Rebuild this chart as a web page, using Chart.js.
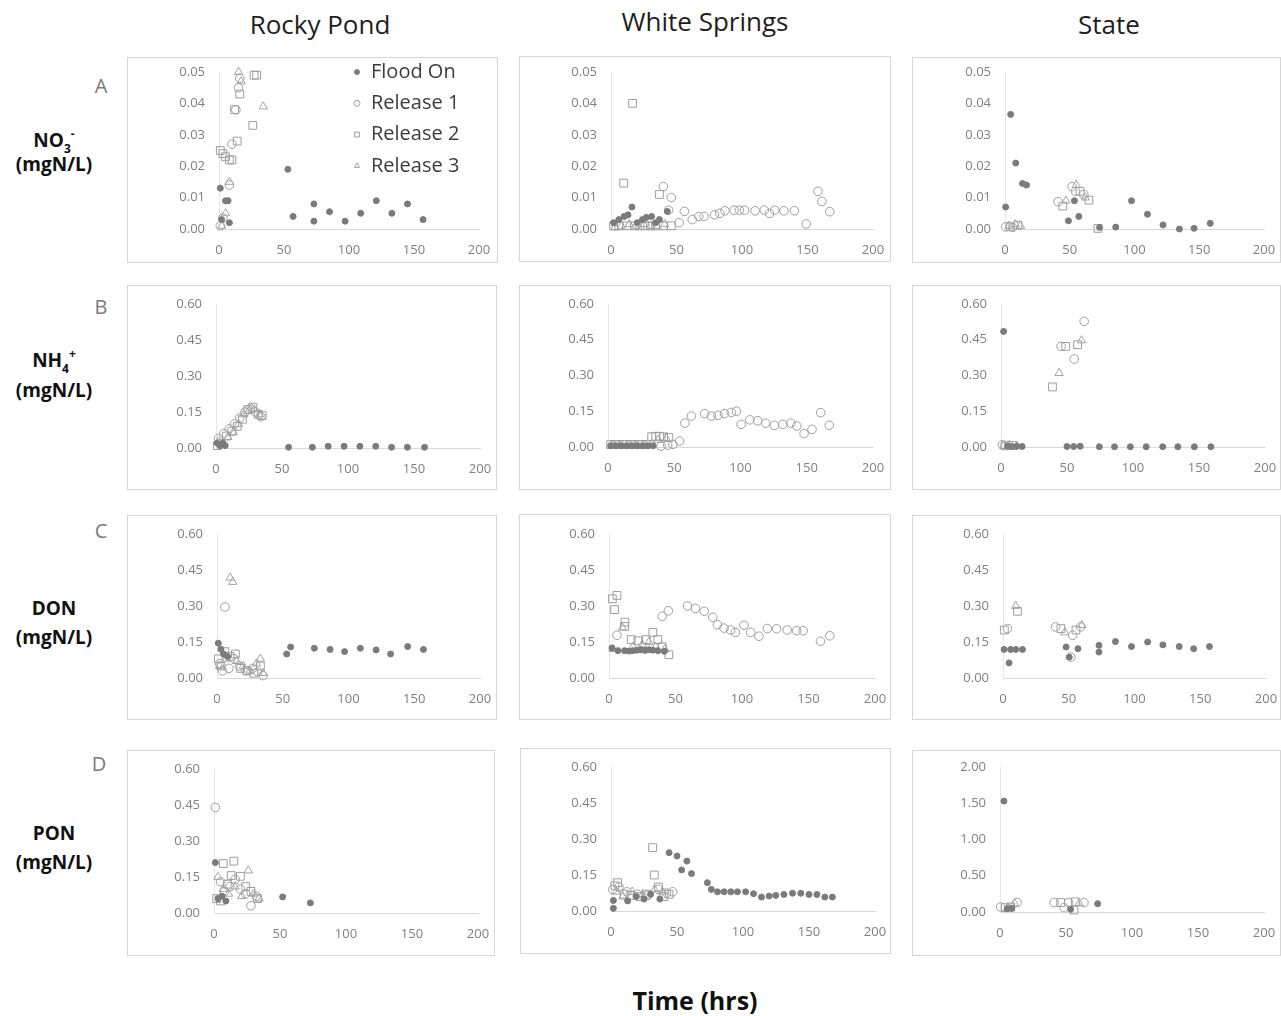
<!DOCTYPE html>
<html>
<head>
<meta charset="utf-8">
<script src="https://cdn.jsdelivr.net/npm/chart.js@4.4.0/dist/chart.umd.min.js"></script>
<style>
  body { margin: 0; background: #fff; font-family: "Open Sans", sans-serif; }
  #page { position: relative; width: 1281px; height: 1016px; overflow: hidden; }
  .c { position: absolute; transform: translate(-50%, -50%); white-space: nowrap; }
  .title { font-size: 26px; color: #1e1e1e; }
  .letter { font-size: 20px; color: #7a7a7a; }
  .rowlab { font-size: 19px; font-weight: bold; color: #111; }
  .sb { position: relative; top: 6px; font-size: 12px; }
  .sp { position: relative; top: -9px; font-size: 12px; }
  .frame { position: absolute; border: 1px solid #d6d6d6; box-sizing: border-box; pointer-events: none; }
  canvas { position: absolute; }
</style>
</head>
<body>
<div id="page">
  <div class="c title" style="left:320px;top:24px">Rocky Pond</div>
  <div class="c title" style="left:705px;top:21px">White Springs</div>
  <div class="c title" style="left:1109px;top:24px">State</div>

  <div class="c letter" style="left:101px;top:85px">A</div>
  <div class="c letter" style="left:101px;top:306px">B</div>
  <div class="c letter" style="left:101px;top:530px">C</div>
  <div class="c letter" style="left:99px;top:763px">D</div>

  <div class="c rowlab" style="left:54px;top:140px">NO<span class="sb">3</span><span class="sp">-</span></div>
  <div class="c rowlab" style="left:54px;top:164px">(mgN/L)</div>
  <div class="c rowlab" style="left:54px;top:360px">NH<span class="sb">4</span><span class="sp">+</span></div>
  <div class="c rowlab" style="left:54px;top:390px">(mgN/L)</div>
  <div class="c rowlab" style="left:54px;top:608px">DON</div>
  <div class="c rowlab" style="left:54px;top:637px">(mgN/L)</div>
  <div class="c rowlab" style="left:54px;top:833px">PON</div>
  <div class="c rowlab" style="left:54px;top:862px">(mgN/L)</div>

  <div class="c rowlab" style="left:695px;top:1000px;font-size:25px">Time (hrs)</div>
</div>

<script>
// series names and [time (hrs), mgN/L] values
const seriesNames = ["Flood On", "Release 1", "Release 2", "Release 3"];

// Rocky Pond
const rpNo3Flood = [[1,0.013],[2,0.003],[5,0.009],[7,0.009],[8,0.002],[53,0.019],[57,0.004],[73,0.008],[73,0.0025],[85,0.0055],[97,0.0025],[109,0.005],[121,0.009],[133,0.005],[145,0.008],[157,0.003]];
const rpNo3Rel1 = [[1,0.001],[3,0.0035],[8,0.014],[10,0.027],[13,0.038],[15,0.045],[16,0.048]];
const rpNo3Rel2 = [[1,0.025],[3,0.024],[5,0.023],[8,0.022],[10,0.022],[12,0.038],[14,0.028],[16,0.043],[26,0.033],[27,0.049],[29,0.049]];
const rpNo3Rel3 = [[2,0.001],[5,0.005],[8,0.015],[15,0.05],[17,0.047],[34,0.039]];

const rpNh4Flood = [[1,0.02],[3,0.01],[5,0.02],[7,0.01],[55,0.003],[73,0.003],[85,0.007],[97,0.007],[109,0.007],[121,0.007],[133,0.003],[145,0.003],[158,0.003]];
const rpNh4Rel1 = [[2,0.04],[6,0.06],[10,0.08],[14,0.1],[18,0.125],[22,0.15],[26,0.165],[30,0.15],[34,0.13]];
const rpNh4Rel2 = [[1,0.01],[4,0.02],[8,0.05],[12,0.07],[16,0.09],[20,0.12],[24,0.16],[28,0.17],[32,0.14],[35,0.135]];
const rpNh4Rel3 = [[2,0.03],[5,0.015],[9,0.045],[13,0.065],[17,0.1],[21,0.14],[25,0.155],[29,0.16],[33,0.14]];

const rpDonFlood = [[1,0.145],[3,0.12],[5,0.1],[8,0.09],[53,0.1],[56,0.129],[74,0.124],[86,0.119],[97,0.11],[109,0.124],[121,0.117],[132,0.1],[145,0.131],[157,0.119]];
const rpDonRel1 = [[2,0.06],[4,0.03],[6,0.296],[9,0.04],[13,0.08],[17,0.05],[22,0.03],[27,0.04],[31,0.025],[35,0.01]];
const rpDonRel2 = [[1,0.08],[3,0.05],[6,0.11],[10,0.09],[14,0.1],[18,0.04],[23,0.03],[28,0.02],[33,0.05]];
const rpDonRel3 = [[2,0.05],[7,0.08],[10,0.418],[12,0.4],[15,0.07],[20,0.05],[25,0.03],[30,0.06],[33,0.08],[35,0.02]];

const rpPonFlood = [[1,0.21],[3,0.06],[6,0.07],[9,0.05],[52,0.067],[73,0.042]];
const rpPonRel1 = [[1,0.44],[5,0.13],[8,0.09],[12,0.11],[16,0.14],[20,0.1],[24,0.08],[28,0.03],[32,0.07]];
const rpPonRel2 = [[2,0.06],[5,0.05],[7,0.206],[10,0.12],[13,0.156],[15,0.216],[20,0.153],[24,0.11],[28,0.09],[33,0.06]];
const rpPonRel3 = [[3,0.15],[7,0.1],[11,0.08],[16,0.11],[21,0.07],[26,0.177],[30,0.08],[34,0.06]];

// White Springs
const wsNo3Flood = [[2,0.002],[6,0.003],[10,0.004],[13,0.0045],[16,0.007],[20,0.002],[24,0.003],[27,0.0037],[31,0.004],[34,0.002],[37,0.003],[43,0.0056]];
const wsNo3Rel1 = [[40,0.0135],[44,0.006],[46,0.01],[52,0.002],[56,0.0056],[62,0.003],[67,0.004],[71,0.004],[79,0.0045],[83,0.005],[87,0.0058],[94,0.006],[98,0.006],[102,0.006],[110,0.0058],[117,0.006],[121,0.005],[125,0.006],[132,0.0058],[140,0.0058],[149,0.0016],[158,0.012],[161,0.0088],[167,0.0055]];
const wsNo3Rel2 = [[2,0.001],[6,0.001],[9.7,0.0146],[12,0.001],[16.5,0.04],[18,0.001],[22,0.001],[26,0.001],[30,0.001],[34,0.001],[37,0.011],[40,0.001],[46,0.001]];
const wsNo3Rel3 = [[3,0.0005],[8,0.001],[14,0.0015],[19,0.001],[25,0.0015],[30,0.001],[35,0.001],[41,0.0015]];

const wsNh4Flood = [[2,0.005],[6,0.005],[10,0.005],[14,0.005],[18,0.005],[22,0.005],[26,0.005],[30,0.005],[34,0.005]];
const wsNh4Rel1 = [[40,0.004],[45,0.008],[49,0.011],[54,0.025],[58,0.1],[63,0.13],[73,0.14],[78,0.13],[83,0.133],[88,0.14],[93,0.145],[97,0.15],[100.5,0.095],[107,0.114],[113,0.11],[119,0.1],[125.5,0.091],[132,0.095],[138,0.1],[142.5,0.088],[148,0.056],[154,0.074],[160.5,0.144],[167,0.091]];
const wsNh4Rel2 = [[2,0.01],[5,0.01],[8,0.01],[11,0.01],[14,0.01],[17,0.01],[20,0.01],[23,0.01],[26,0.01],[29,0.01],[33,0.043],[36,0.045],[39,0.045],[42,0.043],[46,0.04]];
const wsNh4Rel3 = [[3,0.008],[9,0.006],[15,0.008],[21,0.006],[27,0.008],[33,0.012],[38,0.03],[44,0.035]];

const wsDonFlood = [[2.2,0.125],[6.7,0.114],[11.7,0.114],[15,0.112],[18,0.114],[21,0.116],[24,0.118],[27,0.115],[30,0.118],[33,0.116],[36.7,0.114],[41.6,0.111]];
const wsDonRel1 = [[6,0.178],[40,0.257],[44.6,0.28],[59,0.3],[65,0.29],[71.6,0.278],[78,0.253],[81.5,0.222],[86.5,0.208],[91.5,0.2],[95,0.19],[101.5,0.22],[106.5,0.19],[112.7,0.174],[119,0.206],[126,0.205],[134,0.2],[141,0.197],[146,0.197],[159,0.153],[166,0.176]];
const wsDonRel2 = [[2.5,0.33],[6,0.344],[4.2,0.285],[12,0.233],[11.7,0.215],[16.7,0.16],[21.7,0.155],[28,0.16],[33,0.19],[36.7,0.16],[40,0.13],[45,0.097]];
const wsDonRel3 = [[3,0.12],[10,0.21],[18,0.13],[25,0.14],[30,0.15],[35,0.13],[42,0.12]];

const wsPonFlood = [[1.8,0.044],[1.8,0.011],[12.6,0.042],[19,0.06],[25,0.05],[30,0.07],[37,0.05],[44,0.243],[50,0.229],[53.5,0.171],[57.5,0.208],[61,0.156],[73,0.118],[76,0.09],[80.7,0.08],[85.7,0.08],[90.8,0.08],[95.8,0.08],[102,0.08],[108,0.072],[114,0.058],[119.8,0.0625],[124.8,0.065],[131,0.069],[137.5,0.074],[143.8,0.074],[150,0.069],[156,0.069],[162,0.058],[167.7,0.058]];
const wsPonRel1 = [[1.3,0.09],[6,0.1],[12,0.08],[20,0.07],[28,0.065],[36,0.09],[42,0.075],[46.7,0.08]];
const wsPonRel2 = [[3,0.105],[5,0.118],[10,0.07],[15,0.065],[22,0.06],[27,0.07],[31.5,0.264],[32.8,0.15],[36,0.1],[40,0.06],[44,0.07]];
const wsPonRel3 = [[4,0.08],[9,0.06],[16,0.08],[24,0.07],[33,0.09],[39,0.08]];

// State
const stNo3Flood = [[0.5,0.007],[4.4,0.0365],[8.3,0.021],[13.5,0.0145],[16.6,0.014],[49,0.0026],[53.6,0.009],[57,0.004],[73,0.0005],[85.5,0.0006],[97.7,0.009],[110,0.0047],[122,0.0013],[134.7,0],[146,0.0002],[158.5,0.0018]];
const stNo3Rel1 = [[0.5,0.0007],[6,0.0005],[41,0.0087],[51.8,0.0135],[54.4,0.012],[60.9,0.011]];
const stNo3Rel2 = [[4,0.0007],[10,0.0012],[44.6,0.0073],[58,0.012],[64.8,0.0092],[71.8,0.0002]];
const stNo3Rel3 = [[3,0.001],[8,0.0015],[12,0.001],[47,0.009],[55,0.014],[62,0.01]];

const stNh4Flood = [[2,0.485],[5,0.004],[8,0.002],[12,0.003],[16,0.002],[50,0.002],[55,0.002],[60,0.003],[74.5,0.001],[86,0.001],[98,0.001],[110,0.001],[122.5,0.001],[134,0.001],[146.5,0.001],[159,0.001]];
const stNh4Rel1 = [[1,0.01],[6,0.008],[45.5,0.422],[55.5,0.369],[63,0.527]];
const stNh4Rel2 = [[3,0.005],[9,0.006],[39,0.252],[49,0.422],[58,0.429]];
const stNh4Rel3 = [[2,0.004],[12,0.005],[44,0.31],[61,0.447]];

const stDonFlood = [[0.8,0.119],[4.6,0.063],[5.8,0.119],[9.7,0.119],[14.8,0.119],[48,0.129],[50.4,0.087],[57,0.122],[73,0.108],[73,0.136],[85.5,0.152],[97.7,0.131],[110,0.15],[121.6,0.138],[134,0.131],[145,0.122],[157,0.131]];
const stDonRel1 = [[3.3,0.206],[40,0.213],[53,0.178],[59,0.213],[51.6,0.087]];
const stDonRel2 = [[1,0.2],[11,0.278],[44,0.206],[55.5,0.2]];
const stDonRel3 = [[9.7,0.3],[47,0.19],[60,0.22]];

const stPonFlood = [[3,1.53],[5.5,0.046],[9,0.05],[53.5,0.037],[74,0.115]];
const stPonRel1 = [[0.5,0.07],[13,0.13],[41,0.13],[52,0.13],[63.6,0.13],[48.5,0.06]];
const stPonRel2 = [[4,0.06],[8,0.07],[46,0.13],[57,0.14],[56,0.027]];
const stPonRel3 = [[6,0.05],[11,0.12],[60,0.12]];

// axis ranges
const no3Axis = { max: 0.05, step: 0.01 };
const nAxis = { max: 0.6, step: 0.15 };
const stPonAxis = { max: 2, step: 0.5 };

// marker looks, one per series
const markers = [
  { pointStyle: "circle", radius: 3, bg: "#7b7b7b", line: "#7b7b7b" },
  { pointStyle: "circle", radius: 4.3, bg: "rgba(0,0,0,0)", line: "#9e9e9e" },
  { pointStyle: "rect", radius: 5.5, bg: "rgba(0,0,0,0)", line: "#9e9e9e" },
  { pointStyle: "triangle", radius: 4.8, bg: "rgba(0,0,0,0)", line: "#a4a4a4" }
];

// panel frame [x, y, w, h] and plot edges [x at 0, x at 200, y at max, y at 0]
const panels = [
  { box: [127, 57, 371, 206], plot: [219, 479, 72, 229], axis: no3Axis, series: [rpNo3Flood, rpNo3Rel1, rpNo3Rel2, rpNo3Rel3], legend: true },
  { box: [519, 56, 372, 206], plot: [611, 873, 72, 229], axis: no3Axis, series: [wsNo3Flood, wsNo3Rel1, wsNo3Rel2, wsNo3Rel3] },
  { box: [912, 57, 369, 206], plot: [1005, 1264, 72, 229], axis: no3Axis, series: [stNo3Flood, stNo3Rel1, stNo3Rel2, stNo3Rel3] },

  { box: [127, 285, 370, 205], plot: [216, 480, 304, 448], axis: nAxis, series: [rpNh4Flood, rpNh4Rel1, rpNh4Rel2, rpNh4Rel3] },
  { box: [519, 285, 372, 205], plot: [608, 873, 304, 447], axis: nAxis, series: [wsNh4Flood, wsNh4Rel1, wsNh4Rel2, wsNh4Rel3] },
  { box: [912, 285, 369, 205], plot: [1001, 1265, 304, 447], axis: nAxis, series: [stNh4Flood, stNh4Rel1, stNh4Rel2, stNh4Rel3] },

  { box: [127, 515, 370, 205], plot: [217, 480, 534, 678], axis: nAxis, series: [rpDonFlood, rpDonRel1, rpDonRel2, rpDonRel3] },
  { box: [519, 514, 372, 206], plot: [609, 875, 534, 678], axis: nAxis, series: [wsDonFlood, wsDonRel1, wsDonRel2, wsDonRel3] },
  { box: [912, 515, 369, 205], plot: [1003, 1266, 534, 678], axis: nAxis, series: [stDonFlood, stDonRel1, stDonRel2, stDonRel3] },

  { box: [127, 750, 368, 206], plot: [214, 478, 769, 913], axis: nAxis, series: [rpPonFlood, rpPonRel1, rpPonRel2, rpPonRel3] },
  { box: [520, 748, 371, 206], plot: [611, 875, 767, 911], axis: nAxis, series: [wsPonFlood, wsPonRel1, wsPonRel2, wsPonRel3] },
  { box: [912, 750, 369, 206], plot: [1000, 1264, 767, 912], axis: stPonAxis, series: [stPonFlood, stPonRel1, stPonRel2, stPonRel3] }
];

// draws one marker like Chart.js does, for the legend
function drawMarker(ctx, m, x, y, r) {
  ctx.beginPath();
  if (m.pointStyle === "circle") {
    ctx.arc(x, y, r, 0, Math.PI * 2);
  } else if (m.pointStyle === "rect") {
    ctx.rect(x - r * 0.8, y - r * 0.8, r * 1.6, r * 1.6);
  } else {
    ctx.moveTo(x, y - r);
    ctx.lineTo(x + r * 0.87, y + r * 0.5);
    ctx.lineTo(x - r * 0.87, y + r * 0.5);
    ctx.closePath();
  }
  ctx.fillStyle = m.bg;
  ctx.fill();
  ctx.strokeStyle = m.line;
  ctx.lineWidth = 1;
  ctx.stroke();
}

// legend sitting inside the first plot, upper right
const insideLegend = {
  id: "insideLegend",
  afterDraw(chart, args, opts) {
    if (!opts.show) return;
    const ctx = chart.ctx;
    ctx.save();
    ctx.font = '20px "Open Sans"';
    ctx.textBaseline = "middle";
    seriesNames.forEach(function (name, i) {
      const y = opts.top + i * opts.gap;
      drawMarker(ctx, markers[i], opts.markX, y, i === 0 ? 2.5 : 3);
      ctx.fillStyle = "#3c3c3c";
      ctx.fillText(name, opts.textX, y);
    });
    ctx.restore();
  }
};

const page = document.getElementById("page");

panels.forEach(function (p) {
  const bx = p.box[0], by = p.box[1], bw = p.box[2], bh = p.box[3];
  const left = p.plot[0] - bx;
  const right = bx + bw - p.plot[1];
  const top = p.plot[2] - by;
  const bottom = by + bh - p.plot[3];

  const cv = document.createElement("canvas");
  cv.width = bw;
  cv.height = bh;
  cv.style.left = bx + "px";
  cv.style.top = by + "px";
  page.appendChild(cv);

  const frame = document.createElement("div");
  frame.className = "frame";
  frame.style.left = bx + "px";
  frame.style.top = by + "px";
  frame.style.width = bw + "px";
  frame.style.height = bh + "px";
  page.appendChild(frame);

  const datasets = p.series.map(function (pts, i) {
    const m = markers[i];
    return {
      label: seriesNames[i],
      data: pts.map(function (d) { return { x: d[0], y: d[1] }; }),
      pointStyle: m.pointStyle,
      pointRadius: m.radius,
      pointBackgroundColor: m.bg,
      pointBorderColor: m.line,
      pointBorderWidth: 1,
      clip: false,
      order: i === 0 ? 0 : 1 // filled series on top
    };
  });

  new Chart(cv, {
    type: "scatter",
    data: { datasets: datasets },
    plugins: [insideLegend],
    options: {
      responsive: false,
      animation: false,
      devicePixelRatio: 1,
      layout: { padding: { left: 0, top: top, right: right, bottom: 0 } },
      plugins: {
        legend: { display: false },
        tooltip: { enabled: false },
        insideLegend: { show: !!p.legend, top: 15, gap: 31.3, markX: 230, textX: 244 }
      },
      scales: {
        x: {
          type: "linear",
          min: 0,
          max: 200,
          afterFit: function (s) { s.height = bottom; },
          ticks: { stepSize: 50, padding: 0, color: "#808080", font: { family: "Open Sans", size: 13 } },
          // tickLength only sets the label gap, the grid itself is hidden
          grid: { display: false, tickLength: 13 },
          border: { color: "#d9d9d9" }
        },
        y: {
          min: 0,
          max: p.axis.max,
          afterFit: function (s) { s.width = left; },
          ticks: {
            stepSize: p.axis.step,
            padding: 0,
            color: "#808080",
            font: { family: "Open Sans", size: 13 },
            callback: function (v) { return Number(v).toFixed(2); }
          },
          grid: { display: false, tickLength: 14 },
          border: { color: "#e6e6e6" }
        }
      }
    }
  });
});
</script>
</body>
</html>
